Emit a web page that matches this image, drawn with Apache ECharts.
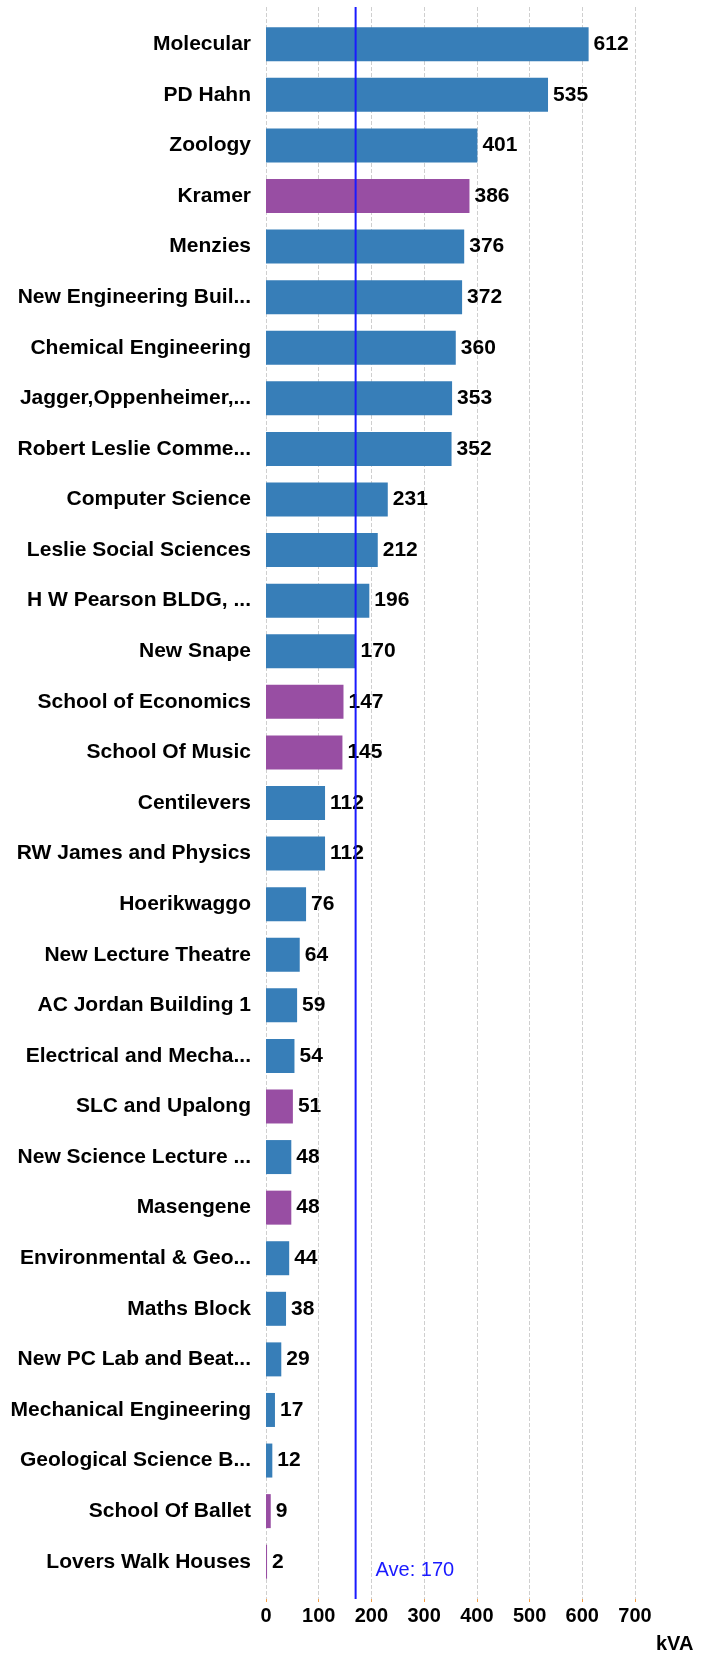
<!DOCTYPE html>
<html>
<head>
<meta charset="utf-8">
<title>Building load (kVA)</title>
<script src="https://cdn.jsdelivr.net/npm/echarts@6/dist/echarts.min.js"></script>
<style>
    html, body { margin: 0; padding: 0; background: #fff; }
    #chart { width: 712px; height: 1654px; }
</style>
</head>
<body>
<div id="chart"></div>
<script>
// buildings, top to bottom
const buildings = [
    'Molecular', 'PD Hahn', 'Zoology', 'Kramer', 'Menzies',
    'New Engineering Buil...', 'Chemical Engineering', 'Jagger,Oppenheimer,...',
    'Robert Leslie Comme...', 'Computer Science', 'Leslie Social Sciences',
    'H W Pearson BLDG, ...', 'New Snape', 'School of Economics', 'School Of Music',
    'Centilevers', 'RW James and Physics', 'Hoerikwaggo', 'New Lecture Theatre',
    'AC Jordan Building 1', 'Electrical and Mecha...', 'SLC and Upalong',
    'New Science Lecture ...', 'Masengene', 'Environmental & Geo...', 'Maths Block',
    'New PC Lab and Beat...', 'Mechanical Engineering', 'Geological Science B...',
    'School Of Ballet', 'Lovers Walk Houses',
]
const kva = [
    612, 535, 401, 386, 376, 372, 360, 353, 352, 231, 212, 196, 170, 147, 145,
    112, 112, 76, 64, 59, 54, 51, 48, 48, 44, 38, 29, 17, 12, 9, 2,
]
// buildings drawn in the second colour
const flagged = [
    'Kramer', 'School of Economics', 'School Of Music', 'SLC and Upalong',
    'Masengene', 'School Of Ballet', 'Lovers Walk Houses',
]
const average = 170
const xTicks = [0, 100, 200, 300, 400, 500, 600, 700]

const BLUE = '#377eb8'
const PURPLE = '#984ea3'
const AVE = '#1a1aff'
const FONT = '"Liberation Sans", Arial, sans-serif'

const chart = echarts.init(document.getElementById('chart'))

const xRange = {
    type: 'value',
    min: xTicks[0],
    max: xTicks[xTicks.length - 1],
    interval: 100,
}

chart.setOption({
    animation: false,
    textStyle: { fontFamily: FONT },
    title: {
        text: 'kVA',
        left: 656,
        top: 1634,
        padding: 0,
        textStyle: { fontFamily: FONT, fontSize: 20, fontWeight: 'bold', color: '#000' },
    },
    // grid 0 holds the bars, grid 1 the axis, grid lines and average line
    grid: [
        { left: 266, right: 77, top: 19, height: 1568 },
        { left: 266, right: 77, top: 7, height: 1592 },
    ],
    xAxis: [
        {
            ...xRange,
            gridIndex: 0,
            show: false,
        },
        {
            ...xRange,
            gridIndex: 1,
            axisLine: { show: false },
            axisTick: { show: true, length: 3, lineStyle: { color: '#f5a04a' } },
            axisLabel: {
                margin: 7,
                fontSize: 20,
                fontWeight: 'bold',
                color: '#000',
                fontFamily: FONT,
            },
            splitLine: {
                show: true,
                lineStyle: { color: '#cfcfcf', type: [4, 2], width: 1 },
            },
        },
    ],
    yAxis: [
        {
            type: 'category',
            gridIndex: 0,
            inverse: true,
            data: buildings,
            axisLine: { show: false },
            axisTick: { show: false },
            axisLabel: {
                margin: 15,
                fontSize: 21,
                fontWeight: 'bold',
                color: '#000',
                fontFamily: FONT,
            },
        },
        {
            type: 'value',
            gridIndex: 1,
            min: 0,
            max: 1,
            show: false,
        },
    ],
    series: [
        {
            type: 'bar',
            xAxisIndex: 0,
            yAxisIndex: 0,
            barWidth: 34,
            data: kva.map((v, i) => ({
                value: v,
                itemStyle: { color: flagged.includes(buildings[i]) ? PURPLE : BLUE },
            })),
            label: {
                show: true,
                position: 'right',
                distance: 5,
                fontSize: 21,
                fontWeight: 'bold',
                color: '#000',
                fontFamily: FONT,
            },
            markPoint: {
                silent: true,
                symbolSize: 0,
                label: {
                    show: true,
                    position: 'right',
                    distance: 20,
                    offset: [0, 9],
                    fontSize: 20,
                    color: AVE,
                    fontFamily: FONT,
                    formatter: 'Ave: ' + average,
                },
                data: [{ coord: [average, buildings[buildings.length - 1]] }],
            },
            z: 2,
        },
        {
            // average line, full height of the plot
            type: 'line',
            xAxisIndex: 1,
            yAxisIndex: 1,
            silent: true,
            symbol: 'none',
            lineStyle: { color: AVE, width: 2 },
            data: [[average, 0], [average, 1]],
            z: 3,
        },
    ],
})
</script>
</body>
</html>
